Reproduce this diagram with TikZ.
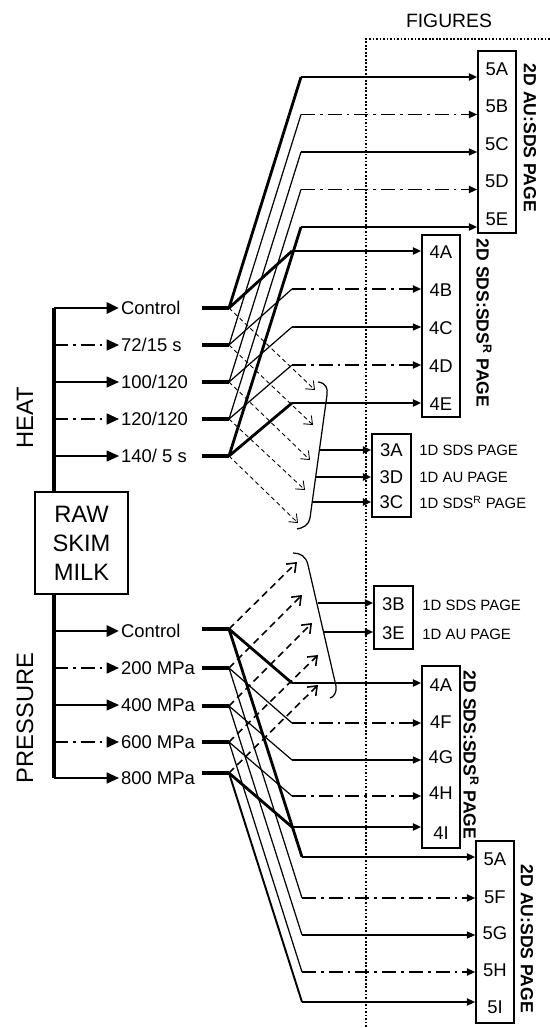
\documentclass[tikz,border=0pt]{standalone}
\usepackage{fontspec}
\setmainfont{Liberation Sans}
\usetikzlibrary{arrows.meta, calc, positioning}

\begin{document}
\begin{tikzpicture}[
    x=0.02cm, y=-0.02cm,
    >={Triangle[length=4.8pt, width=4pt]},
    thk/.style={line width=1.6pt},
    mid/.style={line width=1.1pt},
    thn/.style={line width=0.7pt},
    dd/.style={line width=1.1pt, dash pattern=on 8pt off 2.8pt on 1.6pt off 2.8pt},
    trunk/.style={line width=2.3pt},
    stub/.style={line width=2.8pt},
    br/.style={-{Triangle[length=7pt, width=6.2pt]}},
    hda/.style={line width=0.5pt, dash pattern=on 2.4pt off 1.8pt,
                -{Straight Barb[length=4pt, width=6.5pt]}},
    pda/.style={line width=0.9pt, dash pattern=on 4pt off 2.6pt,
                -{Straight Barb[length=4.5pt, width=7pt]}},
    dots/.style={line width=1.3pt, dash pattern=on 1pt off 1pt},
    fig/.style={draw, line width=0.8pt, minimum width=0.76cm, inner sep=0pt},
    rowlab/.style={anchor=west, inner sep=1pt, font=\fontsize{10.5}{12}\selectfont},
    boxlab/.style={inner sep=0pt, font=\fontsize{10.5}{12}\selectfont},
    side/.style={anchor=west, inner sep=0pt, font=\fontsize{8.5}{10}\selectfont},
    vlab/.style={rotate=-90, inner sep=0pt, font=\bfseries\fontsize{10}{12}\selectfont},
    big/.style={font=\fontsize{13.5}{16.5}\selectfont},
]
\useasboundingbox (0,0) rectangle (550,1028);

% raw milk and the two trunks
\node[draw, line width=1pt, minimum width=1.86cm, minimum height=2.04cm,
      align=center, inner sep=0pt, big] (raw) at (81.5,543) {RAW\\SKIM\\MILK};
\coordinate (ht) at (54,308);
\coordinate (pb) at (54,778);
\draw[trunk] (ht) -- (ht |- raw.north);
\draw[trunk] (raw.south -| pb) -- (pb);
\node[big, rotate=90] (heat) at (25,418) {HEAT};
\node[big, rotate=90] (pres) at (25,718) {PRESSURE};

% heat treatments
\foreach \i/\y/\txt/\bst in {1/308/Control/thk, 2/345/{72/15 s}/dd,
    3/382/{100/120}/thn, 4/419/{120/120}/dd, 5/456/{140/ 5 s}/thn}{
  \node[rowlab] (hr\i) at (119,\y) {\txt};
  \draw[\bst, br] (hr\i.west -| ht) -- (hr\i.west);
  \coordinate (hs\i) at (229,\y);
  \draw[stub] (202,\y) -- (hs\i);
}
% pressure treatments
\foreach \i/\y/\sy/\txt/\bst in {1/631/629/Control/thk, 2/668/668/{200 MPa}/dd,
    3/705/706/{400 MPa}/thn, 4/742/742/{600 MPa}/dd, 5/778/773/{800 MPa}/mid}{
  \node[rowlab] (pr\i) at (119,\y) {\txt};
  \draw[\bst, br] (pr\i.west -| pb) -- (pr\i.west);
  \coordinate (ps\i) at (229,\sy);
  \draw[stub] (202,\sy) -- (ps\i);
}

% figures column
\node[font=\fontsize{11}{13}\selectfont] (figs) at (449,21) {FIGURES};
\coordinate (dc) at (366,39);
\coordinate (db) at (366,1028);
\draw[dots] (550,39) -- (dc) -- (db);

% heat -> 2D AU:SDS
\node[fig, minimum height=3.64cm] (box5h) at (497,142) {};
\foreach \r/\L/\y/\sl/\hz in {1/A/77/thk/thk, 2/B/114.5/thn/dd, 3/C/152/thn/thn,
    4/D/189.5/thn/dd, 5/E/227/thk/thk}{
  \coordinate (k5\L) at (301,\y);
  \node[boxlab] (h5\L) at (497,\y-8) {5\L};
  \draw[\sl] (hs\r) -- (k5\L);
  \draw[\hz, ->] (k5\L) -- (k5\L -| box5h.west);
}
\node[vlab] (v5h) at (530,138) {2D AU:SDS PAGE};

% heat -> 2D SDS:SDSR
\node[fig, minimum height=3.64cm] (box4h) at (441,326) {};
\foreach \r/\L/\y/\sl/\hz in {1/A/251/thk/thk, 2/B/289/thn/dd, 3/C/327/thn/thn,
    4/D/365/thn/dd, 5/E/403/thk/thk}{
  \coordinate (k4\L) at (292,\y);
  \node[boxlab] (h4\L) at (441,\y+1) {4\L};
  \draw[\sl] (hs\r) -- (k4\L);
  \draw[\hz, ->] (k4\L) -- (k4\L -| box4h.west);
}
\node[vlab] (v4h) at (484,323) {2D SDS:SDS\textsuperscript{R} PAGE};

% heat -> 1D gels
\foreach \i/\tx/\ty in {1/315/390, 2/313/425, 3/310/460, 4/305/490, 5/298/523}{
  \coordinate (hq\i) at (\tx,\ty);
  \draw[hda] (hs\i) -- (hq\i);
}
\draw[thn] (318,382) .. controls (326,383) and (328,388) .. (327,395)
   -- (310,518) .. controls (309,525) and (303,528) .. (297,529);
\node[fig, minimum width=0.78cm, minimum height=1.66cm] (box3h) at (391.5,475.5) {};
\foreach \L/\bx/\y/\txt in {A/319/450/{1D SDS PAGE}, D/316/477/{1D AU PAGE},
    C/312/502/{1D SDS\textsuperscript{R} PAGE}}{
  \coordinate (c3\L) at (\bx,\y);
  \node[boxlab] (h3\L) at (391.5,\y) {3\L};
  \node[side] (d3\L) at (419,\y) {\txt};
  \draw[line width=1.4pt, ->] (c3\L) -- (c3\L -| box3h.west);
}

% pressure -> 1D gels
\foreach \i/\tx/\ty in {1/297/562, 2/302/595, 3/312/623, 4/318/655, 5/318/685}{
  \coordinate (pq\i) at (\tx,\ty);
  \draw[pda] (ps\i) -- (pq\i);
}
\draw[thn] (293,553) .. controls (300,553) and (306,556) .. (308,565)
   -- (336,686) .. controls (337,692) and (334,697) .. (330,698);
\node[fig, minimum width=0.78cm, minimum height=1.26cm] (box3p) at (393.5,617.5) {};
\foreach \L/\bx/\y/\txt in {B/318/603/{1D SDS PAGE}, E/324/632/{1D AU PAGE}}{
  \coordinate (c3\L) at (\bx,\y);
  \node[boxlab] (p3\L) at (393.5,\y+1) {3\L};
  \node[side] (e3\L) at (422,\y+2) {\txt};
  \draw[line width=1.4pt, ->] (c3\L) -- (c3\L -| box3p.west);
}

% pressure -> 2D SDS:SDSR
\node[fig, minimum height=3.64cm] (box4p) at (441,757) {};
\foreach \r/\L/\y/\ly/\sl/\hz in {1/A/683/685/thk/thk, 2/F/723/722/thn/dd,
    3/G/760/757/thn/thn, 4/H/796/793/thn/dd, 5/I/827/833/thk/thk}{
  \coordinate (m4\L) at (292,\y);
  \node[boxlab] (p4\L) at (441,\ly) {4\L};
  \draw[\sl] (ps\r) -- (m4\L);
  \draw[\hz, ->] (m4\L) -- (m4\L -| box4p.west);
}
\node[vlab] (v4p) at (471,755) {2D SDS:SDS\textsuperscript{R} PAGE};

% pressure -> 2D AU:SDS
\node[fig, minimum height=3.64cm] (box5p) at (495,932) {};
\foreach \r/\L/\y/\ly/\sl/\hz in {1/A/857/859/thk/thk, 2/F/898/897/thn/dd,
    3/G/935/933/thn/thn, 4/H/972/970/thn/dd, 5/I/1002/1007/mid/mid}{
  \coordinate (m5\L) at (302,\y);
  \node[boxlab] (p5\L) at (495,\ly) {5\L};
  \draw[\sl] (ps\r) -- (m5\L);
  \draw[\hz, ->] (m5\L) -- (m5\L -| box5p.west);
}
\node[vlab] (v5p) at (527,939) {2D AU:SDS PAGE};
\end{tikzpicture}
\end{document}
